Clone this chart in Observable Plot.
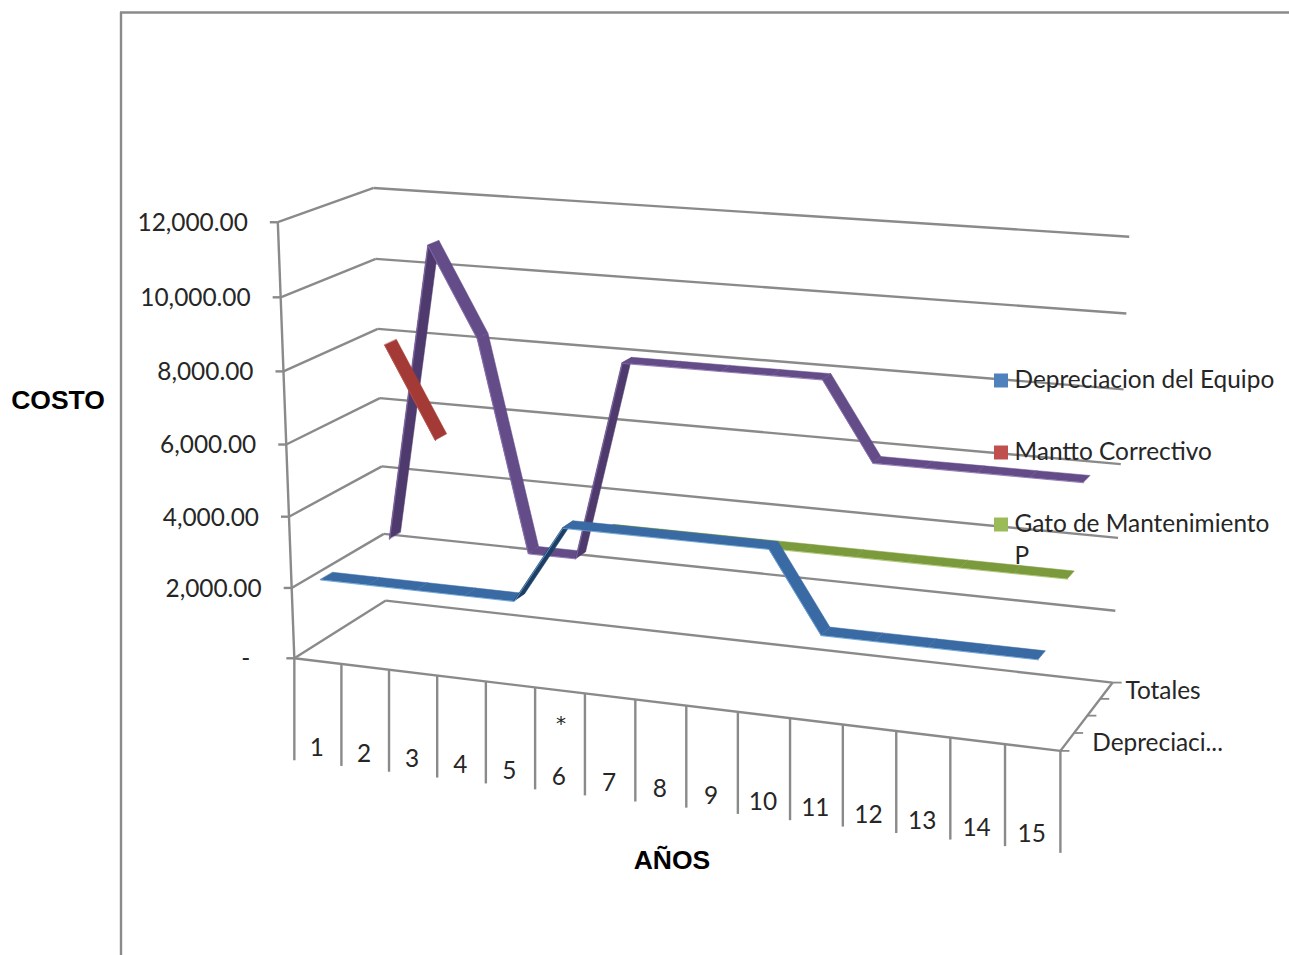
<!DOCTYPE html>
<html>
<head>
<meta charset="utf-8">
<script src="https://cdn.jsdelivr.net/npm/d3@7"></script>
<script src="https://cdn.jsdelivr.net/npm/@observablehq/plot@0.6"></script>
<style>
  html, body { margin: 0; padding: 0; background: #fff; overflow: hidden; }
  svg { display: block; }
</style>
</head>
<body>
<div id="chart"></div>
<script>
// Chart content
const years = [1, 2, 3, 4, 5, 6, 7, 8, 9, 10, 11, 12, 13, 14, 15];
const depreciacion = [2200, 2200, 2200, 2200, 2200, 4350, 4350, 4350, 4350, 4350, 2200, 2200, 2200, 2200, 2200];
const manttoCorrectivo = [null, 8500, 6000, null, null, null, null, null, null, null, null, null, null, null, null];
const gatoMantenimiento = [null, null, null, null, null, 3500, 3500, 3500, 3500, 3500, 3500, 3500, 3500, 3500, 3500];
const totales = [2200, 10700, 8200, 2200, 2200, 7850, 7850, 7850, 7850, 7850, 5700, 5700, 5700, 5700, 5700];
const valueTicks = [0, 2000, 4000, 6000, 8000, 10000, 12000];
const valueLabels = ["-", "2,000.00", "4,000.00", "6,000.00", "8,000.00", "10,000.00", "12,000.00"];
const legendNames = ["Depreciacion del Equipo", "Mantto Correctivo", "Gato de Mantenimiento"];
const legendColors = ["#4f81bd", "#c0504d", "#9bbb59"];

// Ribbons, back to front, with their colours for flat runs, steep runs and the lit edge
const ribbons = [
  {values: totales, depth: 0.875, flat: "#644c88", steep: "#4e3a6c", edge: "#8a6fb0"},
  {values: gatoMantenimiento, depth: 0.625, flat: "#7b9a3c", steep: "#64802e", edge: "#a9c76a"},
  {values: manttoCorrectivo, depth: 0.375, flat: "#a33a36", steep: "#a33a36", edge: "#b9524e"},
  {values: depreciacion, depth: 0.125, flat: "#3a6aa3", steep: "#1d3f66", edge: "#66a5dc"}
];
const ribbonHalfWidth = 0.065;

// Camera: box positions (year span, value, depth) paired with their place on the page.
// A projective transform is fitted to these by least squares.
const anchors = [
  [0, 0, 0, 293, 658], [5, 0, 0, 534, 687], [10, 0, 0, 790, 718], [15, 0, 0, 1060, 750],
  [0, 12000, 0, 278, 222.5], [0, 6000, 0, 286, 443],
  [0, 0, 1, 387, 600], [0, 6000, 1, 378, 398], [0, 12000, 1, 373, 187],
  [15, 0, 1, 1112, 682], [15, 6000, 1, 1120, 464], [15, 12000, 1, 1129, 236]
];

function fitCamera(points) {
  const n = 11;
  const A = Array.from({length: n}, () => new Array(n + 1).fill(0));
  const accumulate = (row, rhs) => {
    for (let i = 0; i < n; i++) {
      for (let j = 0; j < n; j++) A[i][j] += row[i] * row[j];
      A[i][n] += row[i] * rhs;
    }
  };
  for (const [u0, v0, w, sx, sy] of points) {
    const u = u0 / 15, v = v0 / 12000, x = sx / 1000, y = sy / 1000;
    accumulate([u, v, w, 1, 0, 0, 0, 0, -x * u, -x * v, -x * w], x);
    accumulate([0, 0, 0, 0, u, v, w, 1, -y * u, -y * v, -y * w], y);
  }
  for (let c = 0; c < n; c++) {
    let pivot = c;
    for (let r = c + 1; r < n; r++) if (Math.abs(A[r][c]) > Math.abs(A[pivot][c])) pivot = r;
    [A[c], A[pivot]] = [A[pivot], A[c]];
    for (let r = 0; r < n; r++) {
      if (r === c) continue;
      const f = A[r][c] / A[c][c];
      for (let k = c; k <= n; k++) A[r][k] -= f * A[c][k];
    }
  }
  return A.map((row, i) => row[n] / row[i]);
}

const cam = fitCamera(anchors);
function project(span, value, depth) {
  const u = span / 15, v = value / 12000, w = depth;
  const d = cam[8] * u + cam[9] * v + cam[10] * w + 1;
  return {
    x: 1000 * (cam[0] * u + cam[1] * v + cam[2] * w + cam[3]) / d,
    y: 1000 * (cam[4] * u + cam[5] * v + cam[6] * w + cam[7]) / d
  };
}

// A straight segment between two box positions
function segment(a, b) {
  const p = project(...a), q = project(...b);
  return {x1: p.x, y1: p.y, x2: q.x, y2: q.y};
}

// Box wireframe
const wall = [
  ...valueTicks.map(v => segment([0, v, 1], [15, v, 1])),
  ...valueTicks.map(v => segment([0, v, 0], [0, v, 1])),
  segment([0, 0, 0], [0, 12000, 0]),
  segment([0, 0, 0], [15, 0, 0]),
  segment([15, 0, 0], [15, 0, 1])
];

// Tick stubs
const yearStubLength = 102;
const yearStubs = d3.range(0, 16).map(u => {
  const p = project(u, 0, 0);
  return {x1: p.x, y1: p.y, x2: p.x, y2: p.y + yearStubLength};
});
const valueStubs = valueTicks.map(v => {
  const p = project(0, v, 0);
  return {x1: p.x - 8, y1: p.y, x2: p.x, y2: p.y};
});
const depthTicks = [0, 0.25, 0.5, 0.75, 1];
const depthStubs = depthTicks.map(w => {
  const p = project(15, 0, w);
  return {x1: p.x, y1: p.y, x2: p.x + 9, y2: p.y};
});

// Tick labels
const yearLabels = years.map(y => {
  const p = project(y - 0.5, 0, 0);
  return {x: p.x - 1, y: p.y + 87, text: String(y)};
});
const asterisk = (() => {
  const p = project(5.5, 0, 0);
  return [{x: p.x + 1, y: p.y + 33, text: "*"}];
})();
const valueTickLabels = valueTicks.map((v, i) => {
  const p = project(0, v, 0);
  return {x: p.x - (v === 0 ? 44 : 30), y: p.y + 1, text: valueLabels[i]};
});
const depthLabels = [
  {w: 0.875, text: "Totales", dx: 19, dy: 1},
  {w: 0.125, text: "Depreciaci...", dx: 25, dy: 1}
].map(d => {
  const p = project(15, 0, d.w);
  return {x: p.x + d.dx, y: p.y + d.dy, text: d.text};
});

// Each pair of consecutive years becomes one quad of the ribbon, shaded by its steepness
function ribbonQuads({values, depth, flat, steep}) {
  const rows = [];
  values.forEach((v, i) => {
    const next = values[i + 1];
    if (v == null || next == null) return;
    const fill = next - v > 1000 ? steep : flat;
    for (const [k, val] of [[i, v], [i + 1, next]]) {
      const a = project(k + 0.5, val, depth - ribbonHalfWidth);
      const b = project(k + 0.5, val, depth + ribbonHalfWidth);
      rows.push({id: i, x1: a.x, y1: a.y, x2: b.x, y2: b.y, fill});
    }
  });
  return rows;
}

function ribbonEdge({values, depth}) {
  const rows = [];
  values.forEach((v, i) => {
    if (v == null) return;
    rows.push({...project(i + 0.5, v, depth - ribbonHalfWidth)});
  });
  return rows;
}

const gridStroke = "#8a8a8a";
const gridWidth = 2.4;
const labelFont = "Lato";
const labelSize = 24.4;
const ink = "#262626";

const marks = [
  // Outer chart border
  Plot.ruleX([120.5], {y1: 12, y2: 955, stroke: gridStroke, strokeWidth: gridWidth}),
  Plot.ruleY([12], {x1: 120, x2: 1289, stroke: gridStroke, strokeWidth: gridWidth}),
  // Axes box
  Plot.link(wall, {x1: "x1", y1: "y1", x2: "x2", y2: "y2", stroke: gridStroke, strokeWidth: gridWidth}),
  Plot.link(yearStubs, {x1: "x1", y1: "y1", x2: "x2", y2: "y2", stroke: gridStroke, strokeWidth: gridWidth}),
  Plot.link(valueStubs, {x1: "x1", y1: "y1", x2: "x2", y2: "y2", stroke: gridStroke, strokeWidth: gridWidth}),
  Plot.link(depthStubs, {x1: "x1", y1: "y1", x2: "x2", y2: "y2", stroke: gridStroke, strokeWidth: 1.8})
];

// Series ribbons
for (const r of ribbons) {
  marks.push(
    Plot.area(ribbonQuads(r), {x1: "x1", y1: "y1", x2: "x2", y2: "y2", z: "id", fill: "fill", stroke: "fill", strokeWidth: 0.5, curve: "linear"}),
    Plot.line(ribbonEdge(r), {x: "x", y: "y", stroke: r.edge, strokeWidth: 1, strokeOpacity: 0.8, curve: "linear"})
  );
}

const textOptions = {x: "x", y: "y", text: "text", fontFamily: labelFont, fontSize: labelSize, fill: ink};
marks.push(
  Plot.text(yearLabels, {...textOptions, textAnchor: "middle"}),
  Plot.text(asterisk, {...textOptions, textAnchor: "middle", fontFamily: "DejaVu Sans", fontSize: 20}),
  Plot.text(valueTickLabels, {...textOptions, textAnchor: "end"}),
  Plot.text(depthLabels, {...textOptions, textAnchor: "start"}),
  // Legend
  Plot.dot(legendNames, {
    x: 1000.5,
    y: (d, i) => 380 + i * 72,
    symbol: "square",
    r: 7.9,
    fill: (d, i) => legendColors[i],
    stroke: "none"
  }),
  Plot.text(legendNames, {
    x: 1014,
    y: (d, i) => 380 + i * 72,
    text: d => d,
    textAnchor: "start",
    fontFamily: labelFont,
    fontSize: labelSize,
    fill: ink
  }),
  Plot.text(["P"], {x: 1014, y: 556, text: d => d, textAnchor: "start", fontFamily: labelFont, fontSize: labelSize, fill: ink}),
  // Axis titles
  Plot.text(["COSTO"], {x: 57.5, y: 400, text: d => d, fontFamily: "Liberation Sans", fontWeight: "bold", fontSize: 26.5, fill: "#000"}),
  Plot.text(["AÑOS"], {x: 671.5, y: 860, text: d => d, fontFamily: "Liberation Sans", fontWeight: "bold", fontSize: 26.5, fill: "#000"})
);

const chart = Plot.plot({
  width: 1289,
  height: 955,
  margin: 0,
  x: {type: "linear", domain: [0, 1289], range: [0, 1289], axis: null},
  y: {type: "linear", domain: [0, 955], range: [0, 955], axis: null},
  color: {type: "identity"},
  style: {background: "#fff"},
  marks
});
document.getElementById("chart").append(chart);
</script>
</body>
</html>
